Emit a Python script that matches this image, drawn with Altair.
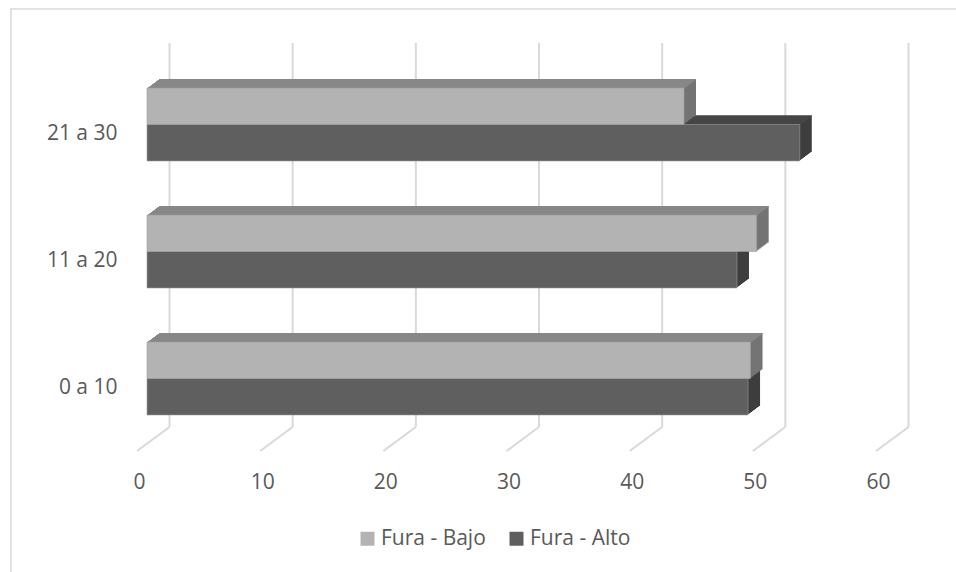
import altair as alt
import pandas as pd

# --- data -------------------------------------------------------------
rangos = ["0 a 10", "11 a 20", "21 a 30"]
fura_bajo = [49.0, 49.5, 43.6]
fura_alto = [48.8, 47.9, 53.0]
series = ["Fura - Bajo", "Fura - Alto"]
marcas_eje = [0, 10, 20, 30, 40, 50, 60]

df = pd.DataFrame({
    "rango": rangos * 2,
    "serie": [series[0]] * len(rangos) + [series[1]] * len(rangos),
    "valor": fura_bajo + fura_alto,
})
grid_df = pd.DataFrame({"v": marcas_eje})

# --- layout / style ---------------------------------------------------
W, H = 739, 381                # plot area
LEFT, TOP = 147, 61
BAR_H = 36.5                   # thickness of each bar's front face
DEPTH_X, DEPTH_Y, STEPS = 12.0, 9.0, 9   # oblique depth of the 3-D blocks
WALL_X = 22.5                  # back wall offset
FLOOR_X = -10.0                # front edge of the floor
GRID = "#d9d9d9"
TEXT = "#595959"
FONT = "Open Sans"

caras = {
    "Fura - Bajo": {"frente": "#b3b3b3", "arriba": "#878787", "lado": "#747474", "centro": -BAR_H / 2},
    "Fura - Alto": {"frente": "#5f5f5f", "arriba": "#474747", "lado": "#3e3e3e", "centro": BAR_H / 2},
}

x_scale = alt.Scale(domain=[0, 60], nice=False, zero=True)
y_scale = alt.Scale(domain=list(reversed(rangos)), paddingInner=0, paddingOuter=0)
color_scale = alt.Scale(domain=series, range=[caras[s]["frente"] for s in series])

x_axis = alt.Axis(values=marcas_eje, title=None, grid=False, domain=False,
                  ticks=False, tickSize=0, labelPadding=29, labelOffset=-8,
                  labelFlush=False, labelBound=False,
                  labelFontSize=21, labelFont=FONT, labelColor=TEXT)
y_axis = alt.Axis(title=None, grid=False, domain=False, ticks=False,
                  tickSize=0, labelPadding=30, labelOffset=9,
                  labelFontSize=21, labelFont=FONT, labelColor=TEXT)

layers = []

# outer chart frame
layers.append(
    alt.Chart(grid_df).mark_rect(fill=None, stroke=GRID, strokeWidth=1.5).encode(
        x=alt.value(11 - LEFT), x2=alt.value(990 - LEFT),
        y=alt.value(9 - TOP), y2=alt.value(600 - TOP),
    ).transform_filter("datum.v == 0")
)

# back wall gridlines and floor diagonals
layers.append(
    alt.Chart(grid_df).mark_rule(color=GRID, strokeWidth=2, xOffset=WALL_X).encode(
        x=alt.X("v:Q", scale=x_scale, axis=x_axis),
        y=alt.value(-18), y2=alt.value(366),
    )
)
layers.append(
    alt.Chart(grid_df).mark_rule(color=GRID, strokeWidth=2, xOffset=WALL_X, x2Offset=FLOOR_X).encode(
        x=alt.X("v:Q", scale=x_scale, axis=x_axis),
        x2="v:Q",
        y=alt.value(366), y2=alt.value(390),
    )
)


def bloque(serie, color, alto, dx, dy_centro):
    return alt.Chart(df).transform_filter(
        alt.datum.serie == serie
    ).mark_bar(
        color=color, height=alto, xOffset=dx, x2Offset=dx, yOffset=dy_centro,
    ).encode(
        x=alt.X("valor:Q", scale=x_scale, axis=x_axis),
        x2=alt.datum(0),
        y=alt.Y("rango:N", scale=y_scale, axis=y_axis),
    )


# depth of each block: side colour first, then the top face strips
for serie in ["Fura - Alto", "Fura - Bajo"]:
    c = caras[serie]
    for k in range(STEPS, 0, -1):
        layers.append(bloque(serie, c["lado"], BAR_H, DEPTH_X * k / STEPS,
                             c["centro"] - DEPTH_Y * k / STEPS))
    strip = DEPTH_Y / STEPS + 0.25
    for k in range(STEPS, 0, -1):
        layers.append(bloque(serie, c["arriba"], strip, DEPTH_X * k / STEPS,
                             c["centro"] - BAR_H / 2 - DEPTH_Y * k / STEPS + strip / 2))

# front faces (carry the legend)
for serie in ["Fura - Alto", "Fura - Bajo"]:
    c = caras[serie]
    layers.append(
        alt.Chart(df).transform_filter(alt.datum.serie == serie).mark_bar(
            height=BAR_H, yOffset=c["centro"], stroke="#9e9e9e", strokeWidth=0.6,
        ).encode(
            x=alt.X("valor:Q", scale=x_scale, axis=x_axis),
            x2=alt.datum(0),
            y=alt.Y("rango:N", scale=y_scale, axis=y_axis),
            color=alt.Color("serie:N", scale=color_scale,
                            legend=alt.Legend(title=None, orient="none", direction="horizontal",
                                              legendX=210, legendY=467, symbolType="square",
                                              symbolSize=196, symbolStrokeWidth=0,
                                              labelFontSize=21, labelFont=FONT, labelColor=TEXT,
                                              labelOffset=3, columnPadding=20, padding=0)),
        )
    )

chart = alt.layer(*layers).properties(
    width=W, height=H,
    padding={"left": LEFT, "top": TOP, "right": 956 - LEFT - W, "bottom": 572 - TOP - H},
    autosize=alt.AutoSizeParams(type="none"),
    background="white",
).configure_view(stroke=None)

chart.save("out.html", embed_options={"renderer": "svg", "actions": False})
